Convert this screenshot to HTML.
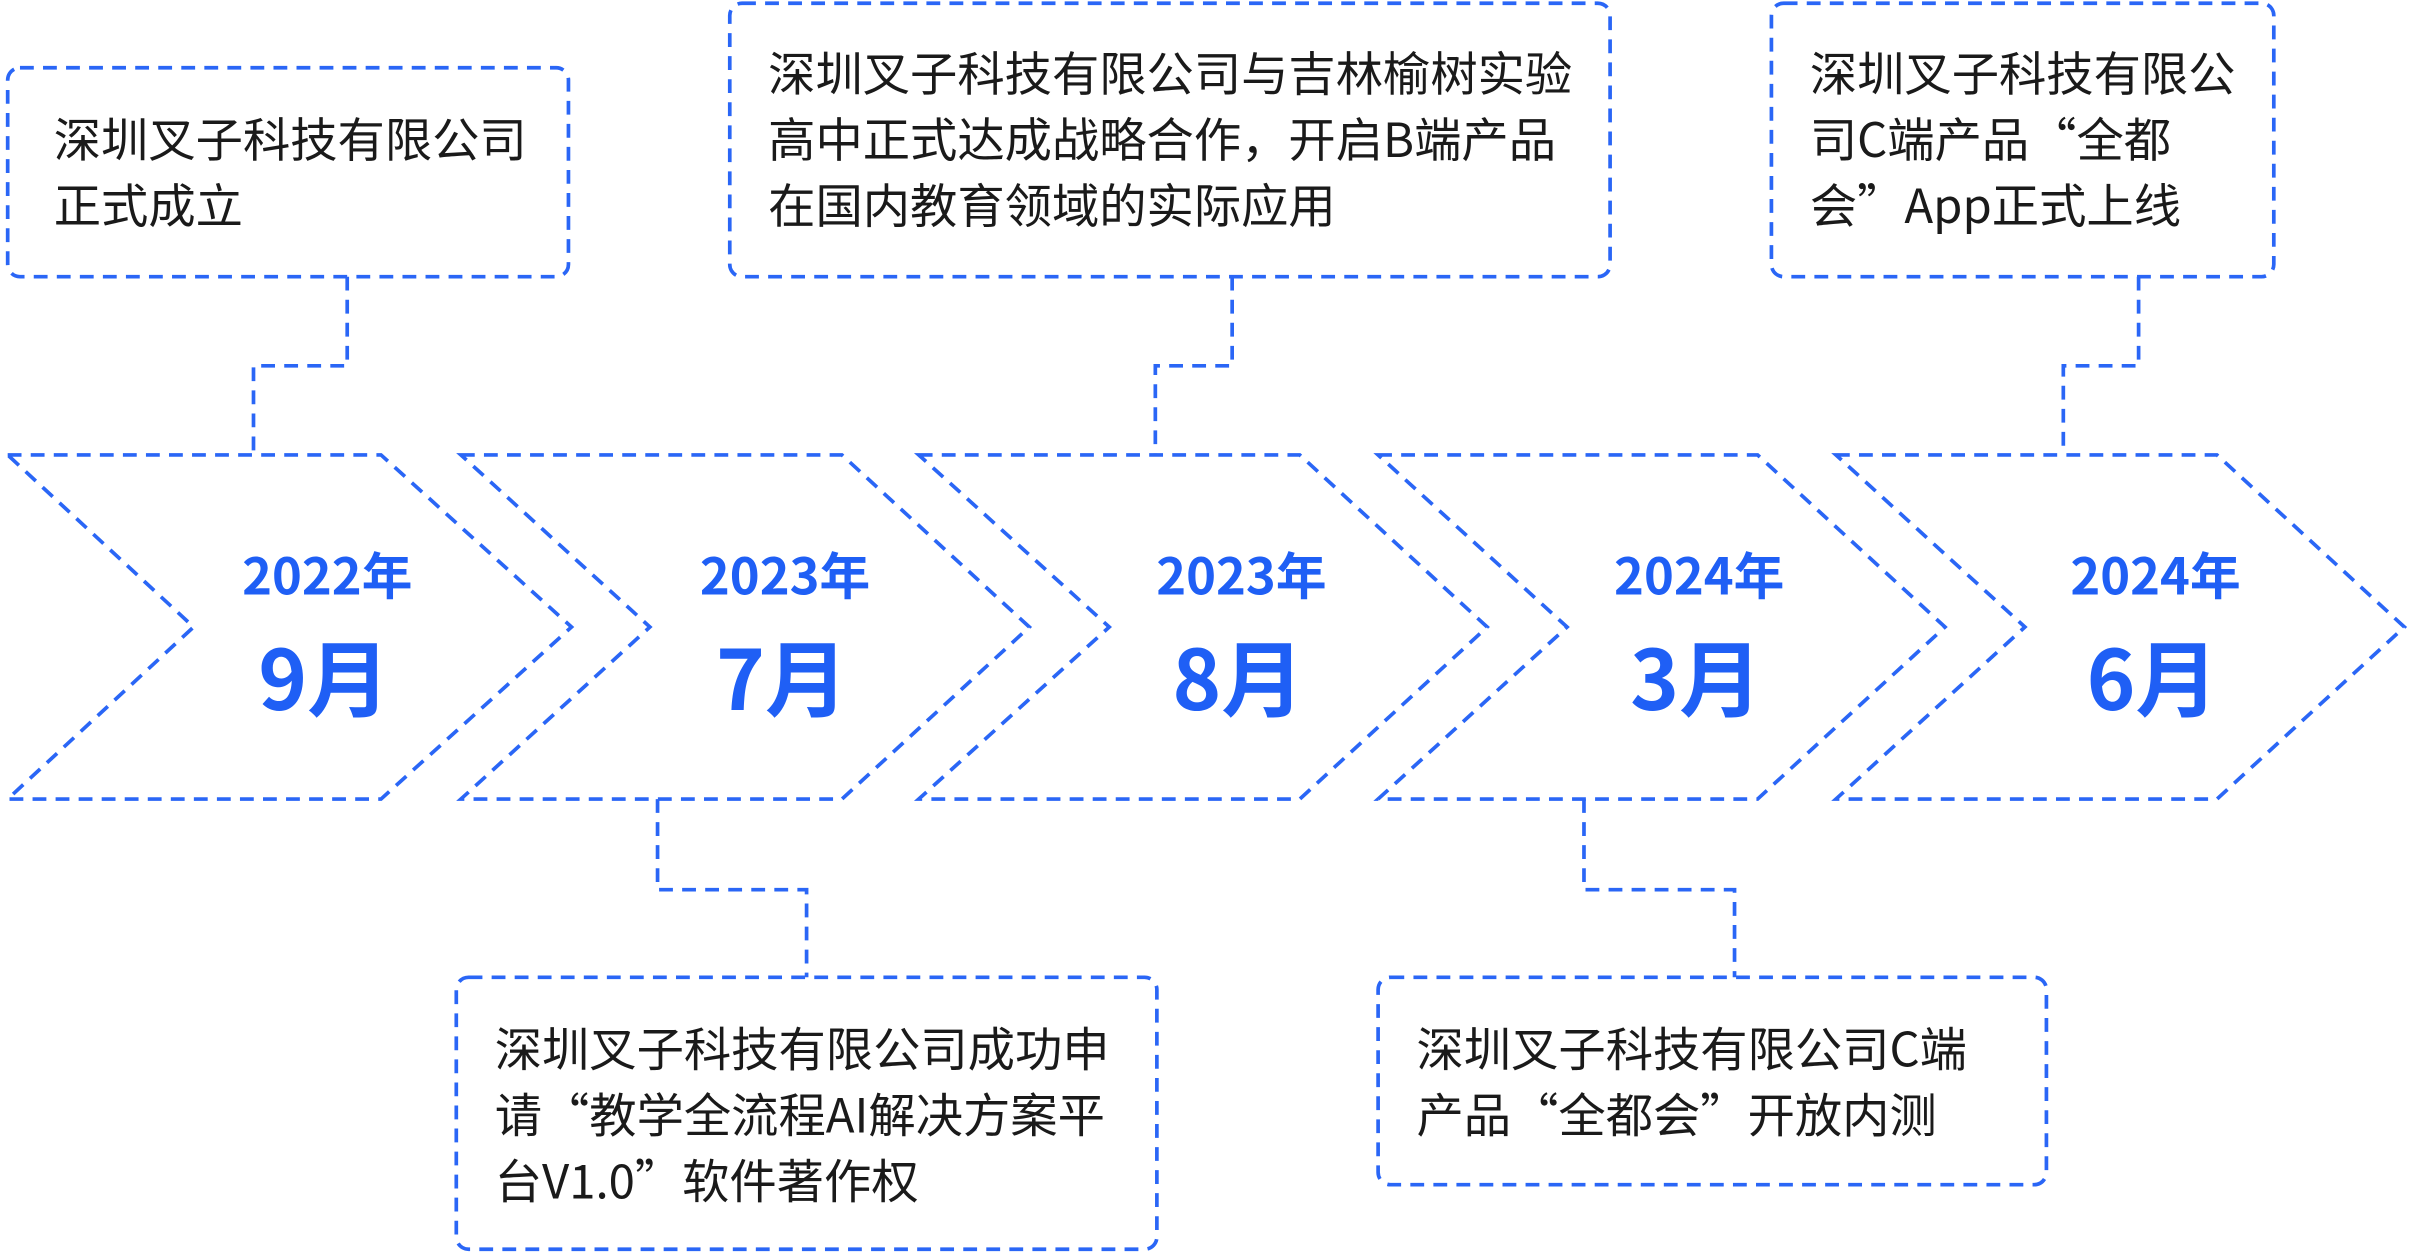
<!DOCTYPE html>
<html><head><meta charset="utf-8">
<style>
html,body{margin:0;padding:0;background:#fff;}
svg{display:block;}
.t{font-family:"Noto Sans CJK SC","Liberation Sans",sans-serif;font-size:30.8px;fill:#1a1a1a;}
.y{font-family:"Noto Sans CJK SC","Liberation Sans",sans-serif;font-weight:bold;fill:#1f5ff5;text-anchor:middle;}
</style></head>
<body>
<svg width="2409" height="1254" viewBox="0 0 1568 816" xmlns="http://www.w3.org/2000/svg">
<g fill="none" stroke="#2a66f6" stroke-width="2.4" stroke-dasharray="9 6">
  <path d="M5 296 H248 L372 408 L248 520 H5 L126 408 Z"/>
  <path d="M300 296 H548 L670 408 L548 520 H300 L423 408 Z"/>
  <path d="M598 296 H846 L968 408 L846 520 H598 L722 408 Z"/>
  <path d="M897 296 H1144 L1266 408 L1144 520 H897 L1020 408 Z"/>
  <path d="M1195 296 H1443 L1565 408 L1443 520 H1195 L1318 408 Z"/>
  <rect x="5" y="44" width="365" height="136" rx="8"/>
  <rect x="475" y="2" width="573" height="178" rx="8"/>
  <rect x="1153" y="2" width="327" height="178" rx="8"/>
  <rect x="297" y="636" width="456" height="177" rx="8"/>
  <rect x="897" y="636" width="435" height="135" rx="8"/>
  <path d="M226 180 V238 H165 V296"/>
  <path d="M802 180 V238 H752 V296"/>
  <path d="M1392 180 V238 H1343 V296"/>
  <path d="M428 520 V579 H525 V636"/>
  <path d="M1031 520 V579 H1129 V636"/>
</g>
<g class="y" font-size="33">
  <text x="213" y="387">2022年</text>
  <text x="511" y="387">2023年</text>
  <text x="808" y="387">2023年</text>
  <text x="1106" y="387">2024年</text>
  <text x="1403" y="387">2024年</text>
</g>
<g class="y" font-size="54">
  <text x="211" y="462">9月</text>
  <text x="509" y="462">7月</text>
  <text x="806" y="462">8月</text>
  <text x="1104" y="462">3月</text>
  <text x="1401" y="462">6月</text>
</g>
<g class="t">
  <text x="35" y="102">深圳叉子科技有限公司</text>
  <text x="35" y="145">正式成立</text>
  <text x="500" y="59">深圳叉子科技有限公司与吉林榆树实验</text>
  <text x="500" y="102">高中正式达成战略合作，开启B端产品</text>
  <text x="500" y="145">在国内教育领域的实际应用</text>
  <text x="1178" y="59">深圳叉子科技有限公</text>
  <text x="1178" y="102">司C端产品“全都</text>
  <text x="1178" y="145">会”App正式上线</text>
  <text x="322" y="694">深圳叉子科技有限公司成功申</text>
  <text x="322" y="737">请“教学全流程AI解决方案平</text>
  <text x="322" y="780">台V1.0”软件著作权</text>
  <text x="922" y="694">深圳叉子科技有限公司C端</text>
  <text x="922" y="737">产品“全都会”开放内测</text>
</g>
</svg>
</body></html>
